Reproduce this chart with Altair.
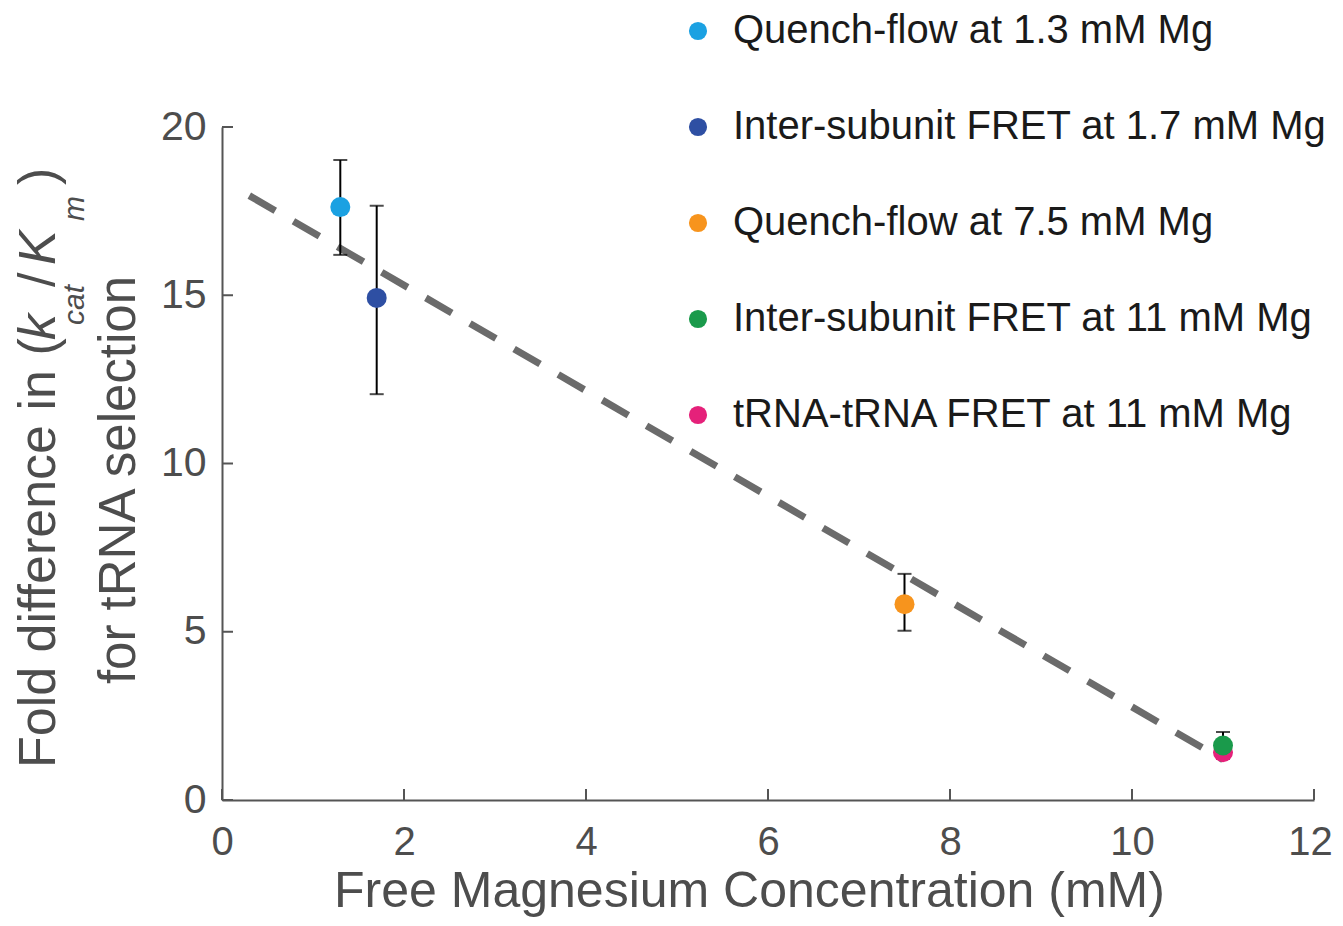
import altair as alt
import pandas as pd

series = [
    "Quench-flow at 1.3 mM Mg",
    "Inter-subunit FRET at 1.7 mM Mg",
    "Quench-flow at 7.5 mM Mg",
    "Inter-subunit FRET at 11 mM Mg",
    "tRNA-tRNA FRET at 11 mM Mg",
]
colors = ["#1ba1e2", "#2e4fa3", "#f7941d", "#1a9a4b", "#e5217a"]
mg = [1.3, 1.7, 7.5, 11.0, 11.0]
fold = [17.62, 14.92, 5.82, 1.62, 1.42]
err_lo = [16.2, 12.06, 5.03, 1.22, None]
err_hi = [19.02, 17.66, 6.72, 2.02, None]
fit_x = [0.3, 11.0]
fit_y = [17.96, 1.2]
x_ticks = [0, 2, 4, 6, 8, 10, 12]
y_ticks = [0, 5, 10, 15, 20]

FONT = "Liberation Sans"
W, H = 1092, 673
AX = "#555555"

df = pd.DataFrame({"series": series, "mg": mg, "fold": fold, "lo": err_lo, "hi": err_hi})
fit = pd.DataFrame({"mg": fit_x, "fold": fit_y})
xt = pd.DataFrame({"v": x_ticks})
yt = pd.DataFrame({"v": y_ticks})

xscale = alt.Scale(domain=[0, 12], nice=False, zero=False)
yscale = alt.Scale(domain=[0, 20], nice=False, zero=False)

xax = alt.Axis(values=x_ticks, format="d", ticks=False, grid=False, domainColor=AX, domainWidth=2,
               labelFlush=False, labelOverlap=False,
               labelOffset={"condition": {"test": "datum.value === 12", "value": -4}, "value": 0},
               labelFont=FONT, labelFontSize=40, labelColor="#4d4d4d", labelPadding=22,
               title="Free Magnesium Concentration (mM)", titleFont=FONT, titleFontSize=50,
               titleFontWeight="normal", titleColor="#4d4d4d", titleX=527, titleY=106,
               titleAlign="center", titleBaseline="alphabetic")
yax = alt.Axis(values=y_ticks, format="d", ticks=False, grid=False, domainColor=AX, domainWidth=2,
               labelFlush=False, labelOverlap=False,
               labelFont=FONT, labelFontSize=41, labelColor="#4d4d4d", labelPadding=16,
               title=None)

line = alt.Chart(fit).mark_line(color="#6b6b6b", strokeWidth=7, strokeDash=[30, 21]).encode(
    x=alt.X("mg:Q", scale=xscale, axis=xax),
    y=alt.Y("fold:Q", scale=yscale, axis=yax),
)

errs = alt.Chart(df).transform_filter("isValid(datum.lo)")
bars = errs.mark_rule(color="black", strokeWidth=2).encode(
    x=alt.X("mg:Q", scale=xscale), y=alt.Y("lo:Q", scale=yscale), y2="hi:Q")
cap_lo = errs.mark_tick(color="black", orient="horizontal", size=14, thickness=2).encode(
    x=alt.X("mg:Q", scale=xscale), y=alt.Y("lo:Q", scale=yscale))
cap_hi = errs.mark_tick(color="black", orient="horizontal", size=14, thickness=2).encode(
    x=alt.X("mg:Q", scale=xscale), y=alt.Y("hi:Q", scale=yscale))

pts = alt.Chart(df).mark_point(filled=True, opacity=1, size=400, shape="circle").encode(
    x=alt.X("mg:Q", scale=xscale),
    y=alt.Y("fold:Q", scale=yscale),
    color=alt.Color("series:N", scale=alt.Scale(domain=series, range=colors),
                    legend=alt.Legend(orient="none", legendX=456, legendY=-116, title=None,
                                      labelFont=FONT, labelFontSize=40, labelColor="#1a1a1a",
                                      symbolSize=330, symbolType="circle", symbolStrokeWidth=0,
                                      labelOffset=15, rowPadding=56, padding=0,
                                      labelLimit=800)),
    order=alt.Order("fold:Q", sort="ascending"),
)

xtk = alt.Chart(xt).mark_rule(color=AX, strokeWidth=2).encode(
    x=alt.X("v:Q", scale=xscale), y=alt.value(H), y2=alt.value(H - 11))
ytk = alt.Chart(yt).mark_rule(color=AX, strokeWidth=2).encode(
    y=alt.Y("v:Q", scale=yscale), x=alt.value(0), x2=alt.value(11))


def piece(text, x, y, size, italic=False, align="left"):
    return alt.Chart(pd.DataFrame({"t": [text]})).mark_text(
        angle=270, align=align, baseline="alphabetic", font=FONT, fontSize=size,
        fontStyle="italic" if italic else "normal", color="#4d4d4d",
    ).encode(text="t:N", x=alt.value(x), y=alt.value(y))


ytitle = [
    piece("Fold difference in (", -167, 641, 52),
    piece("k", -167, 213, 52, italic=True),
    piece("cat", -138, 198, 30, italic=True),
    piece("/", -167, 160, 52),
    piece("K", -167, 138, 52, italic=True),
    piece("m", -138, 94, 30, italic=True),
    piece(")", -167, 58, 52),
    piece("for tRNA selection", -87, 353, 51, align="center"),
]

chart = alt.layer(line, bars, cap_lo, cap_hi, xtk, ytk, pts, *ytitle).properties(
    width=W, height=H,
    autosize=alt.AutoSizeParams(type="none"),
    padding={"left": 214, "top": 119, "right": 21, "bottom": 118},
).configure_view(stroke=None)

chart.save("out.html", embed_options={"renderer": "svg", "actions": False})
